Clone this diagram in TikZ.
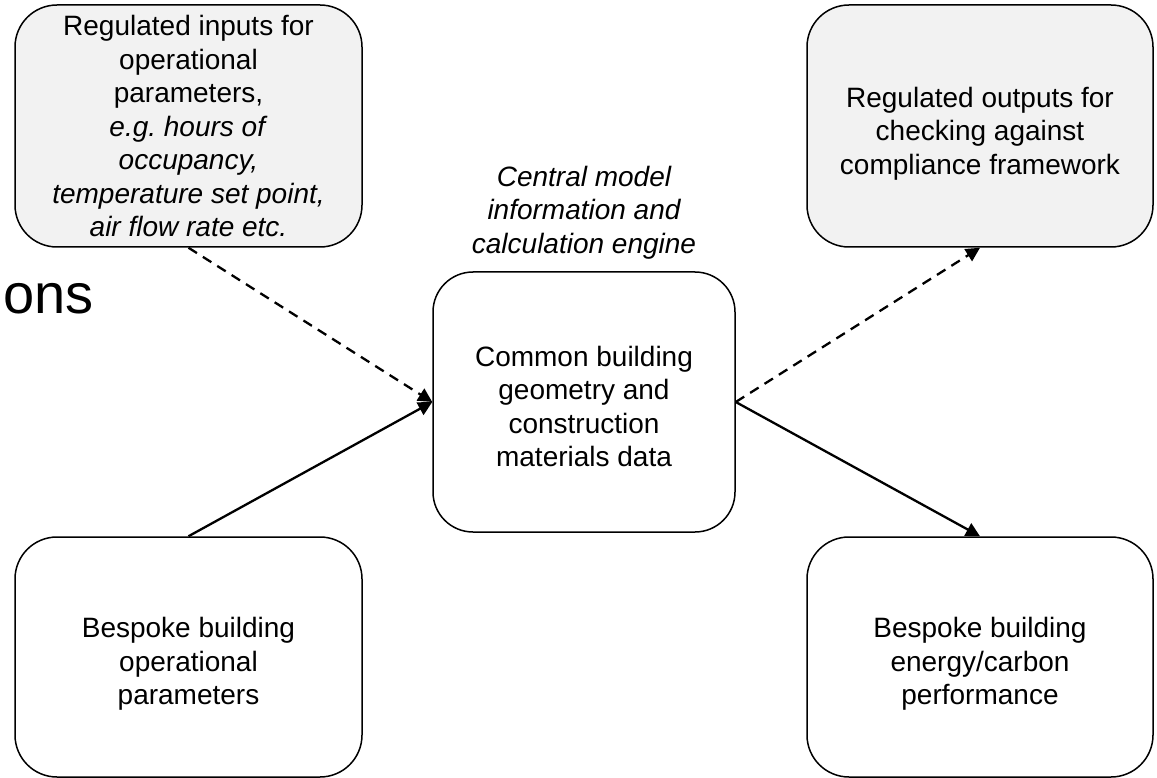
\documentclass[tikz,border=0pt]{standalone}
\usepackage{fontspec}
\setmainfont{Liberation Sans}
\usetikzlibrary{arrows.meta}
\definecolor{boxgrey}{HTML}{F2F2F2}
\newcommand{\boxfont}{\fontsize{28}{33.5}\selectfont}
\newcommand{\topgap}[1]{\rule{0pt}{#1}}
\begin{document}
\begin{tikzpicture}[x=1pt,y=-1pt,
  box/.style={draw=black, line width=1.5pt, rounded corners=42pt, align=center,
    font=\boxfont, inner sep=0pt},
  greybox/.style={box, fill=boxgrey},
  whitebox/.style={box, fill=white},
  conn/.style={line width=2.3pt, -{Triangle[length=14pt,width=14pt]}},
  dconn/.style={conn, dash pattern=on 10pt off 7pt},
  lbl/.style={align=center, font=\boxfont\itshape, inner sep=0pt}]
\useasboundingbox (0,0) rectangle (1157,778);
\fill[white] (0,0) rectangle (1157,778);

\node[anchor=base west, font=\fontsize{56}{60}\selectfont, inner sep=0pt] (frag) at (3,313) {ons};

\node[greybox, minimum width=347pt, minimum height=242pt] (tl) at (188.5,126)
  {Regulated inputs for\\ operational\\ parameters,\\ \textit{e.g.\ hours of}\\ \textit{occupancy,}\\ \textit{temperature set point,}\\ \textit{air flow rate etc.}};
\node[greybox, minimum width=346pt, minimum height=242pt] (tr) at (980,126)
  {\topgap{35pt}Regulated outputs for\\ checking against\\ compliance framework};
\node[whitebox, minimum width=302pt, minimum height=260pt, rounded corners=40pt] (c) at (584,402)
  {\topgap{29pt}Common building\\ geometry and\\ construction\\ materials data};
\node[lbl] (clbl) at (584,212.5) {Central model\\ information and\\ calculation engine};
\node[whitebox, minimum width=347pt, minimum height=240pt] (bl) at (188.5,657)
  {\topgap{34pt}Bespoke building\\ operational\\ parameters};
\node[whitebox, minimum width=346pt, minimum height=240pt] (br) at (980,657)
  {\topgap{34pt}Bespoke building\\ energy/carbon\\ performance};

\draw[dconn] (tl.south) -- (c.west);
\draw[conn] (bl.north) -- (c.west);
\draw[dconn] (c.east) -- (tr.south);
\draw[conn] (c.east) -- (br.north);
\end{tikzpicture}
\end{document}
